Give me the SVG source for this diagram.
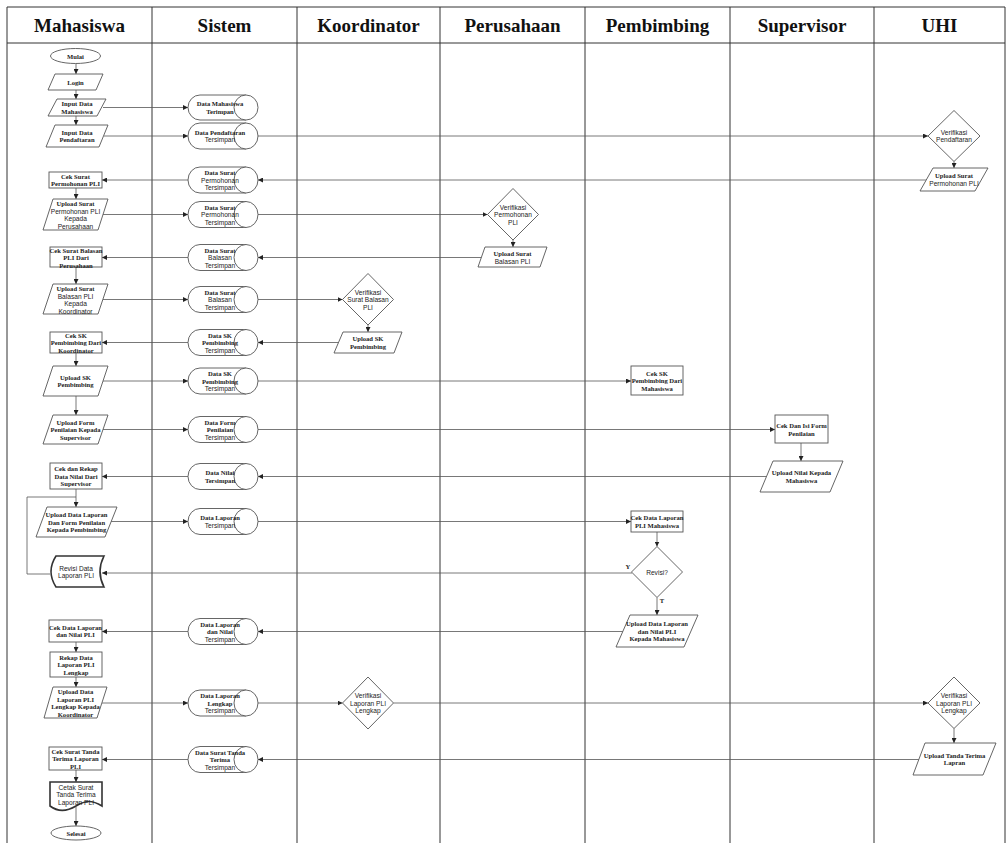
<svg xmlns="http://www.w3.org/2000/svg" width="1007" height="843" viewBox="0 0 1007 843">
<style>
.lane{stroke:#333;stroke-width:1;fill:none}
.hd{font-family:"Liberation Serif",serif;font-weight:bold;font-size:19px;fill:#111;text-anchor:middle}
.sh{fill:#fff;stroke:#555;stroke-width:0.9}
.bold{fill:#fff;stroke:#333;stroke-width:1.6}
.t{font-family:"Liberation Serif",serif;font-size:6.6px;font-weight:bold;fill:#222;text-anchor:middle}
.s{font-family:"Liberation Sans",Arial,sans-serif;font-size:6.6px;fill:#222;text-anchor:middle}
.c{stroke:#555;stroke-width:0.8;fill:none;marker-end:url(#ah)}
.cn{stroke:#555;stroke-width:0.8;fill:none}
</style>
<defs>
<marker id="ah" viewBox="0 0 6 6" refX="6" refY="3" markerWidth="5" markerHeight="5" orient="auto" markerUnits="userSpaceOnUse"><path d="M0,0 L6,3 L0,6 Z" fill="#222"/></marker>
</defs>
<rect width="1007" height="843" fill="#fff"/>
<g id="lanes">
<line class="lane" x1="7" y1="7" x2="1005" y2="7"/>
<line class="lane" x1="7" y1="43" x2="1005" y2="43"/>
<line class="lane" x1="7" y1="7" x2="7" y2="843"/>
<line class="lane" x1="152" y1="7" x2="152" y2="843"/>
<line class="lane" x1="297" y1="7" x2="297" y2="843"/>
<line class="lane" x1="440" y1="7" x2="440" y2="843"/>
<line class="lane" x1="585" y1="7" x2="585" y2="843"/>
<line class="lane" x1="730" y1="7" x2="730" y2="843"/>
<line class="lane" x1="874" y1="7" x2="874" y2="843"/>
<line class="lane" x1="1005" y1="7" x2="1005" y2="843"/>
<text class="hd" x="79.5" y="32">Mahasiswa</text>
<text class="hd" x="224.5" y="32">Sistem</text>
<text class="hd" x="368.5" y="32">Koordinator</text>
<text class="hd" x="512.5" y="32">Perusahaan</text>
<text class="hd" x="657.5" y="32">Pembimbing</text>
<text class="hd" x="802" y="32">Supervisor</text>
<text class="hd" x="939.5" y="32">UHI</text>
</g>
<g id="connectors">
<path class="c" d="M76,63.5 V74"/>
<path class="c" d="M76,90 V99"/>
<path class="c" d="M76,116 V125"/>
<path class="c" d="M76,188 V199"/>
<path class="c" d="M76,267 V284"/>
<path class="c" d="M76,353 V366"/>
<path class="c" d="M76,396 V415"/>
<path class="c" d="M76,489 V507"/>
<path class="cn" d="M50,574 H27 V497 H76"/>
<path class="c" d="M76,642 V652"/>
<path class="c" d="M76,677 V687"/>
<path class="c" d="M76,770 V782"/>
<path class="c" d="M76,807 V826"/>
<path class="c" d="M368,324.5 V332"/>
<path class="c" d="M513,239.5 V247"/>
<path class="c" d="M657,532 V546.5"/>
<path class="c" d="M657,597.5 V615"/>
<path class="c" d="M801,443 V461"/>
<path class="c" d="M954,161.5 V168"/>
<path class="c" d="M954,728.5 V743"/>
<path class="c" d="M103,107.5 H188"/>
<path class="c" d="M104,136 H188"/>
<path class="c" d="M258,136 H928"/>
<path class="c" d="M927,180 H258"/>
<path class="c" d="M188,180 H102"/>
<path class="c" d="M103,214.5 H188"/>
<path class="c" d="M258,214.5 H487.5"/>
<path class="c" d="M482,257.5 H258"/>
<path class="c" d="M188,257.5 H102"/>
<path class="c" d="M103,299.5 H188"/>
<path class="c" d="M258,299.5 H342.5"/>
<path class="c" d="M338,342.5 H258"/>
<path class="c" d="M188,342.5 H102"/>
<path class="c" d="M103,381 H188"/>
<path class="c" d="M258,381 H631"/>
<path class="c" d="M103,429.5 H188"/>
<path class="c" d="M258,429.5 H775"/>
<path class="c" d="M766,476.5 H258"/>
<path class="c" d="M188,476.5 H102"/>
<path class="c" d="M111,521.5 H188"/>
<path class="c" d="M258,521.5 H631"/>
<path class="c" d="M632,573 H102"/>
<path class="c" d="M623,631.5 H258"/>
<path class="c" d="M188,631.5 H102"/>
<path class="c" d="M102,703 H188"/>
<path class="c" d="M258,703 H342.5"/>
<path class="c" d="M393.5,703 H928"/>
<path class="c" d="M919,759.5 H258"/>
<path class="c" d="M188,759.5 H102"/>
<text class="t" x="628" y="569">Y</text>
<text class="t" x="662" y="603">T</text>
</g>
<g id="mulai"><ellipse class="sh" cx="75.5" cy="56" rx="25" ry="7.5"/><text class="t" x="75.5" y="58.5">Mulai</text></g>
<g id="login"><polygon class="sh" points="55,74 103,74 96,90 48,90"/><text class="t" x="75.5" y="84.5">Login</text></g>
<g id="input-mhs"><polygon class="sh" points="57,99 106,99 97,116 48,116"/><text class="t" x="77" y="106.2">Input Data</text><text class="t" x="77" y="113.7">Mahasiswa</text></g>
<g id="input-daftar"><polygon class="sh" points="55,125 108,125 99,147 46,147"/><text class="t" x="77" y="134.7">Input Data</text><text class="t" x="77" y="142.2">Pendaftaran</text></g>
<g id="cek-permohonan"><rect class="sh" x="49" y="172" width="53" height="16"/><text class="t" x="75.5" y="178.7">Cek Surat</text><text class="t" x="75.5" y="186.2">Permohonan PLI</text></g>
<g id="upload-permohonan"><polygon class="sh" points="53,199 108,199 98,230 43,230"/><text class="t" x="75.5" y="206">Upload Surat</text><text class="s" x="75.5" y="213.5">Permohonan PLI</text><text class="s" x="75.5" y="221">Kepada</text><text class="s" x="75.5" y="228.5">Perusahaan</text></g>
<g id="cek-balasan"><rect class="sh" x="50" y="247" width="52" height="20"/><text class="t" x="76" y="252.5">Cek Surat Balasan</text><text class="t" x="76" y="260">PLI Dari</text><text class="t" x="76" y="267.5">Perusahaan</text></g>
<g id="upload-balasan"><polygon class="sh" points="53,284 108,284 98,314 43,314"/><text class="t" x="75.5" y="291">Upload Surat</text><text class="s" x="75.5" y="298.5">Balasan PLI</text><text class="s" x="75.5" y="306">Kepada</text><text class="s" x="75.5" y="313.5">Koordinator</text></g>
<g id="cek-sk"><rect class="sh" x="50" y="332" width="52" height="21"/><text class="t" x="76" y="337.8">Cek SK</text><text class="t" x="76" y="345.3">Pembimbing Dari</text><text class="t" x="76" y="352.8">Koordinator</text></g>
<g id="upload-sk"><polygon class="sh" points="53,366 108,366 98,396 43,396"/><text class="t" x="75.5" y="379.6">Upload SK</text><text class="t" x="75.5" y="387.3">Pembimbing</text></g>
<g id="upload-form"><polygon class="sh" points="53,415 108,415 98,444 43,444"/><text class="t" x="75.5" y="424.8">Upload Form</text><text class="t" x="75.5" y="432.3">Penilaian Kepada</text><text class="t" x="75.5" y="439.8">Supervisor</text></g>
<g id="cek-rekap-nilai"><rect class="sh" x="50" y="463" width="52" height="26"/><text class="t" x="76" y="471.3">Cek dan Rekap</text><text class="t" x="76" y="478.8">Data Nilai Dari</text><text class="t" x="76" y="486.3">Supervisor</text></g>
<g id="upload-laporan"><polygon class="sh" points="47,507 117,507 105,537 36,537"/><text class="t" x="76.5" y="517">Upload Data Laporan</text><text class="t" x="76.5" y="524.5">Dan Form Penilaian</text><text class="t" x="76.5" y="532">Kepada  Pembimbing</text></g>
<g id="revisi-data"><path class="bold" d="M56,556 H104 Q96,571.5 104,587 H56 Q46,571.5 56,556 Z"/><text class="s" x="76" y="570.5">Revisi Data</text><text class="s" x="76" y="578">Laporan PLI</text></g>
<g id="cek-laporan-nilai"><rect class="sh" x="49" y="620" width="53" height="22"/><text class="t" x="75.5" y="629.7">Cek Data Laporan</text><text class="t" x="75.5" y="637.2">dan Nilai PLI</text></g>
<g id="rekap-laporan"><rect class="sh" x="50" y="652" width="52" height="25"/><text class="t" x="76" y="659.8">Rekap Data</text><text class="t" x="76" y="667.3">Laporan PLI</text><text class="t" x="76" y="674.8">Lengkap</text></g>
<g id="upload-lengkap"><polygon class="sh" points="53,687 107,687 97,718 44,718"/><text class="t" x="75.5" y="694">Upload Data</text><text class="t" x="75.5" y="701.5">Laporan PLI</text><text class="t" x="75.5" y="709">Lengkap Kepada</text><text class="t" x="75.5" y="716.5">Koordinator</text></g>
<g id="cek-tanda-terima"><rect class="sh" x="49" y="747" width="53" height="23"/><text class="t" x="75.5" y="753.8">Cek Surat Tanda</text><text class="t" x="75.5" y="761.3">Terima Laporan</text><text class="t" x="75.5" y="768.8">PLI</text></g>
<g id="cetak"><path class="bold" d="M50,782 H102 V806 C92,800 86,800 76,806 C66,812 58,812 50,806 Z"/><text class="s" x="76" y="789.5">Cetak Surat</text><text class="s" x="76" y="797">Tanda Terima</text><text class="s" x="76" y="804.5">Laporan PLI</text></g>
<g id="selesai"><ellipse class="sh" cx="76" cy="833" rx="25" ry="7"/><text class="t" x="76" y="835.5">Selesai</text></g>
<g id="ds1"><path class="sh" d="M246,95 H200 A12 12.5 0 0 0 200,120 H246"/><ellipse class="sh" cx="246" cy="107.5" rx="12" ry="12.5"/><text class="t" x="220" y="106.2">Data Mahasiswa</text><text class="t" x="220" y="113.7">Terimpan</text></g>
<g id="ds2"><path class="sh" d="M246,123 H200 A12 13 0 0 0 200,149 H246"/><ellipse class="sh" cx="246" cy="136" rx="12" ry="13"/><text class="t" x="220" y="134.7">Data Pendaftaran</text><text class="s" x="220" y="142.2">Tersimpan</text></g>
<g id="ds3"><path class="sh" d="M246,167 H200 A12 13 0 0 0 200,193 H246"/><ellipse class="sh" cx="246" cy="180" rx="12" ry="13"/><text class="t" x="220" y="175">Data Surat</text><text class="s" x="220" y="182.5">Permohonan</text><text class="s" x="220" y="190">Tersimpan</text></g>
<g id="ds4"><path class="sh" d="M246,201.5 H200 A12 13 0 0 0 200,227.5 H246"/><ellipse class="sh" cx="246" cy="214.5" rx="12" ry="13"/><text class="t" x="220" y="209.5">Data Surat</text><text class="s" x="220" y="217">Permohonan</text><text class="s" x="220" y="224.5">Tersimpan</text></g>
<g id="ds5"><path class="sh" d="M246,244.5 H200 A12 13 0 0 0 200,270.5 H246"/><ellipse class="sh" cx="246" cy="257.5" rx="12" ry="13"/><text class="t" x="220" y="252.5">Data Surat</text><text class="s" x="220" y="260">Balasan</text><text class="s" x="220" y="267.5">Tersimpan</text></g>
<g id="ds6"><path class="sh" d="M246,286.5 H200 A12 13 0 0 0 200,312.5 H246"/><ellipse class="sh" cx="246" cy="299.5" rx="12" ry="13"/><text class="t" x="220" y="294.5">Data Surat</text><text class="s" x="220" y="302">Balasan</text><text class="s" x="220" y="309.5">Tersimpan</text></g>
<g id="ds7"><path class="sh" d="M246,329.5 H200 A12 13 0 0 0 200,355.5 H246"/><ellipse class="sh" cx="246" cy="342.5" rx="12" ry="13"/><text class="t" x="220" y="337.5">Data SK</text><text class="t" x="220" y="345">Pembimbing</text><text class="s" x="220" y="352.5">Tersimpan</text></g>
<g id="ds8"><path class="sh" d="M246,368 H200 A12 13 0 0 0 200,394 H246"/><ellipse class="sh" cx="246" cy="381" rx="12" ry="13"/><text class="t" x="220" y="376">Data SK</text><text class="t" x="220" y="383.5">Pembimbing</text><text class="s" x="220" y="391">Tersimpan</text></g>
<g id="ds9"><path class="sh" d="M246,416.5 H200 A12 13 0 0 0 200,442.5 H246"/><ellipse class="sh" cx="246" cy="429.5" rx="12" ry="13"/><text class="t" x="220" y="424.5">Data Form</text><text class="t" x="220" y="432">Penilaian</text><text class="s" x="220" y="439.5">Tersimpan</text></g>
<g id="ds10"><path class="sh" d="M246,463.5 H200 A12 13 0 0 0 200,489.5 H246"/><ellipse class="sh" cx="246" cy="476.5" rx="12" ry="13"/><text class="t" x="220" y="475.2">Data Nilai</text><text class="t" x="220" y="482.7">Tersimpan</text></g>
<g id="ds11"><path class="sh" d="M246,508.5 H200 A12 13 0 0 0 200,534.5 H246"/><ellipse class="sh" cx="246" cy="521.5" rx="12" ry="13"/><text class="t" x="220" y="520.2">Data Laporan</text><text class="s" x="220" y="527.7">Tersimpan</text></g>
<g id="ds12"><path class="sh" d="M246,618.5 H200 A12 13 0 0 0 200,644.5 H246"/><ellipse class="sh" cx="246" cy="631.5" rx="12" ry="13"/><text class="t" x="220" y="626.5">Data Laporan</text><text class="t" x="220" y="634">dan Nilai</text><text class="s" x="220" y="641.5">Tersimpan</text></g>
<g id="ds13"><path class="sh" d="M246,690 H200 A12 13 0 0 0 200,716 H246"/><ellipse class="sh" cx="246" cy="703" rx="12" ry="13"/><text class="t" x="220" y="698">Data Laporan</text><text class="t" x="220" y="705.5">Lengkap</text><text class="s" x="220" y="713">Tersimpan</text></g>
<g id="ds14"><path class="sh" d="M246,746.5 H200 A12 13 0 0 0 200,772.5 H246"/><ellipse class="sh" cx="246" cy="759.5" rx="12" ry="13"/><text class="t" x="220" y="754.5">Data Surat Tanda</text><text class="t" x="220" y="762">Terima</text><text class="s" x="220" y="769.5">Tersimpan</text></g>
<g id="verif-balasan"><polygon class="sh" points="368,273.5 393.5,299.5 368,325 342.5,299.5"/><text class="s" x="368" y="294.5">Verifikasi</text><text class="s" x="368" y="302">Surat Balasan</text><text class="s" x="368" y="309.5">PLI</text></g>
<g id="upload-sk-koor"><polygon class="sh" points="343,332 402,332 394,353 334,353"/><text class="t" x="368" y="341.2">Upload SK</text><text class="t" x="368" y="348.7">Pembimbing</text></g>
<g id="verif-lengkap-koor"><polygon class="sh" points="368,677 393.5,703 368,729 342.5,703"/><text class="s" x="368" y="698">Verifikasi</text><text class="s" x="368" y="705.5">Laporan PLI</text><text class="s" x="368" y="713">Lengkap</text></g>
<g id="verif-permohonan"><polygon class="sh" points="513,188.5 538.5,214.5 513,240 487.5,214.5"/><text class="s" x="513" y="209.5">Verifikasi</text><text class="s" x="513" y="217">Permohonan</text><text class="s" x="513" y="224.5">PLI</text></g>
<g id="upload-balasan-prs"><polygon class="sh" points="485,247 547,247 540,267 478,267"/><text class="t" x="512.5" y="256.2">Upload Surat</text><text class="s" x="512.5" y="263.7">Balasan PLI</text></g>
<g id="cek-sk-pmb"><rect class="sh" x="631" y="366" width="52" height="29"/><text class="t" x="657" y="375.5">Cek SK</text><text class="t" x="657" y="383">Pembimbing Dari</text><text class="t" x="657" y="390.5">Mahasiswa</text></g>
<g id="cek-laporan-pmb"><rect class="sh" x="631" y="511" width="52" height="21"/><text class="t" x="657" y="520.2">Cek Data Laporan</text><text class="t" x="657" y="527.7">PLI Mahasiswa</text></g>
<g id="revisi"><polygon class="sh" points="657,546.5 682.5,572 657,597.5 631.5,572"/><text class="s" x="657" y="574.5">Revisi?</text></g>
<g id="upload-laporan-nilai"><polygon class="sh" points="630,615 698,615 684,647 616,647"/><text class="t" x="657" y="626.3">Upload Data Laporan</text><text class="t" x="657" y="633.8">dan Nilai PLI</text><text class="t" x="657" y="641.3">Kepada Mahasiswa</text></g>
<g id="cek-isi-form"><rect class="sh" x="775" y="415" width="53" height="28"/><text class="t" x="801.5" y="428.2">Cek Dan Isi Form</text><text class="t" x="801.5" y="435.7">Penilaian</text></g>
<g id="upload-nilai"><polygon class="sh" points="773,461 843,461 830,492 760,492"/><text class="t" x="801.5" y="475.2">Upload Nilai Kepada</text><text class="t" x="801.5" y="482.7">Mahasiswa</text></g>
<g id="verif-pendaftaran"><polygon class="sh" points="954,110.5 980,136 954,161.5 928,136"/><text class="s" x="954" y="134.7">Verifikasi</text><text class="s" x="954" y="142.2">Pendaftaran</text></g>
<g id="upload-permohonan-uhi"><polygon class="sh" points="933,168 988,168 975,191 920,191"/><text class="t" x="954" y="178.2">Upload Surat</text><text class="s" x="954" y="185.7">Permohonan PLI</text></g>
<g id="verif-lengkap-uhi"><polygon class="sh" points="954,677 980,703 954,728.5 928,703"/><text class="s" x="954" y="698">Verifikasi</text><text class="s" x="954" y="705.5">Laporan PLI</text><text class="s" x="954" y="713">Lengkap</text></g>
<g id="upload-tanda-terima"><polygon class="sh" points="925,743 996,743 983,775 913,775"/><text class="t" x="954.5" y="757.7">Upload Tanda Terima</text><text class="t" x="954.5" y="765.2">Lapran</text></g>
</svg>
